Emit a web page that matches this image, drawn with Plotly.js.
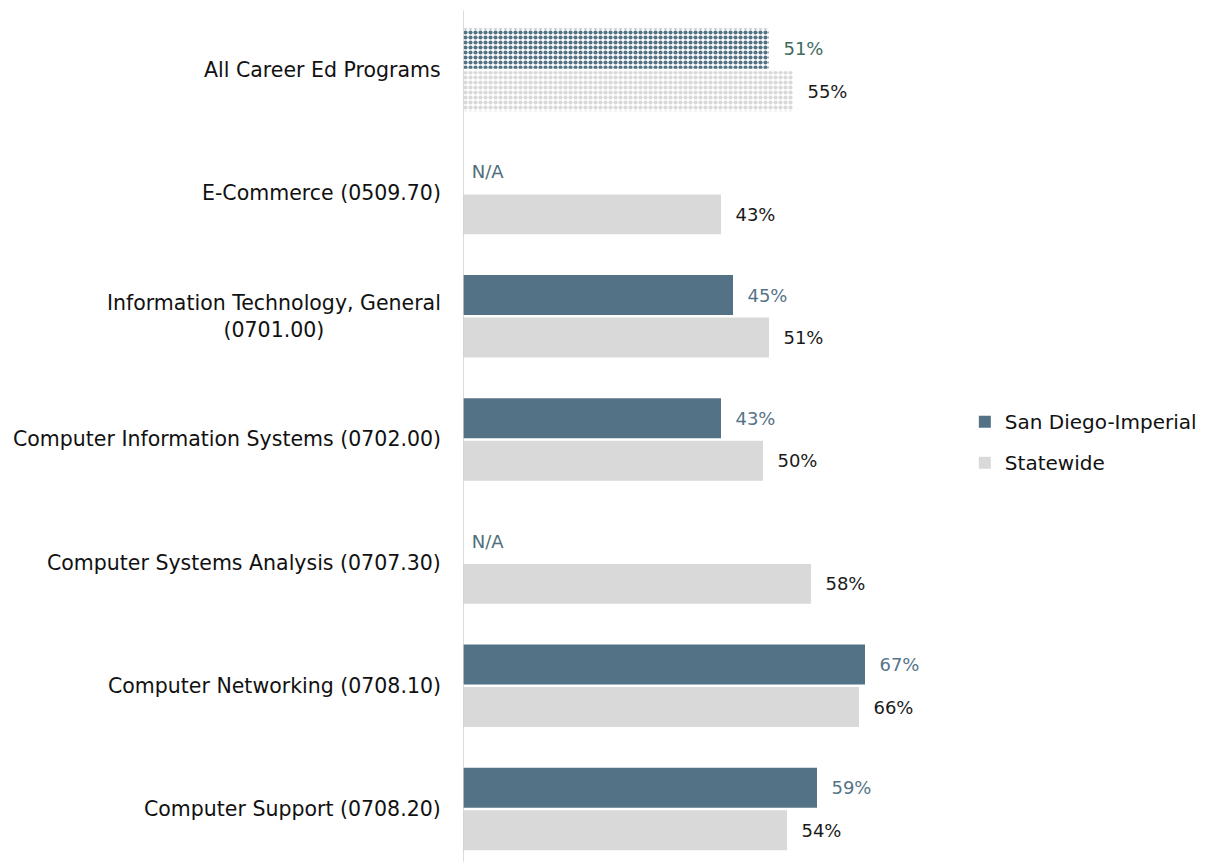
<!DOCTYPE html>
<html>
<head>
<meta charset="utf-8">
<script src="https://cdn.plot.ly/plotly-3.0.1.min.js"></script>
<style>html,body{margin:0;padding:0;background:#fff;}#chart{width:1217px;height:867px;}</style>
</head>
<body>
<div id="chart"></div>
<script>
const categories = [
  'All Career Ed Programs',
  'E-Commerce (0509.70)',
  'Information Technology, General<br>(0701.00)',
  'Computer Information Systems (0702.00)',
  'Computer Systems Analysis (0707.30)',
  'Computer Networking (0708.10)',
  'Computer Support (0708.20)'
];
const sanDiego = [51, null, 45, 43, null, 67, 59];
const statewide = [55, 43, 51, 50, 58, 66, 54];
const seriesNames = ['San Diego-Imperial', 'Statewide'];

const FONT = 'DejaVu Sans';
const SD_COLOR = '#537285';
const SW_COLOR = '#d9d9d9';
const PAD = '\u00a0\u00a0';

function sdText(v) { return v === null ? '\u00a0N/A' : PAD + v + '%'; }
function swText(v) { return PAD + v + '%'; }

const rest = categories.slice(1);
const sdRest = sanDiego.slice(1);
const swRest = statewide.slice(1);

const traces = [
  {
    type: 'bar', orientation: 'h', name: seriesNames[0], legendgroup: 'sd', offsetgroup: 'sd',
    y: rest, x: sdRest.map(v => v === null ? 0 : v),
    text: sdRest.map(sdText), textposition: 'outside', cliponaxis: false, constraintext: 'none',
    textfont: {family: FONT, size: 18, color: sdRest.map(v => v === null ? '#4f6e7c' : '#557488')},
    marker: {color: SD_COLOR}, hoverinfo: 'none'
  },
  {
    type: 'bar', orientation: 'h', name: seriesNames[1], legendgroup: 'sw', offsetgroup: 'sw',
    y: rest, x: swRest,
    text: swRest.map(swText), textposition: 'outside', cliponaxis: false, constraintext: 'none',
    textfont: {family: FONT, size: 18, color: '#1a1a1a'},
    marker: {color: SW_COLOR}, hoverinfo: 'none'
  },
  {
    type: 'bar', orientation: 'h', name: seriesNames[0], legendgroup: 'sd', offsetgroup: 'sd', showlegend: false,
    y: [categories[0]], x: [sanDiego[0]],
    text: [sdText(sanDiego[0])], textposition: 'outside', cliponaxis: false, constraintext: 'none',
    textfont: {family: FONT, size: 18, color: '#3e6b5e'},
    marker: {color: SD_COLOR, pattern: {shape: '.', size: 5, solidity: 0.55, fillmode: 'replace'}}, hoverinfo: 'none'
  },
  {
    type: 'bar', orientation: 'h', name: seriesNames[1], legendgroup: 'sw', offsetgroup: 'sw', showlegend: false,
    y: [categories[0]], x: [statewide[0]],
    text: [swText(statewide[0])], textposition: 'outside', cliponaxis: false, constraintext: 'none',
    textfont: {family: FONT, size: 18, color: '#1a1a1a'},
    marker: {color: SW_COLOR, pattern: {shape: '.', size: 5, solidity: 0.55, fillmode: 'replace'}}, hoverinfo: 'none'
  }
];

const annotations = categories.map(c => ({
  x: 0, xref: 'paper', y: c, yref: 'y', xanchor: 'right', yanchor: 'middle', xshift: -20,
  text: c, showarrow: false, align: 'center',
  font: {family: FONT, size: 20.5, color: '#111'}
}));

const layout = {
  width: 1217, height: 867,
  margin: {l: 463, r: 244, t: 0, b: 0},
  paper_bgcolor: '#fff', plot_bgcolor: '#fff',
  barmode: 'group', bargap: 0.31, bargroupgap: 0.06,
  font: {family: FONT, size: 18, color: '#111'},
  xaxis: {range: [0, 85], showgrid: false, zeroline: false, showticklabels: false, showline: false, fixedrange: true},
  yaxis: {type: 'category', categoryorder: 'array', categoryarray: categories, range: [6.471, -0.568],
          showticklabels: false, showgrid: false, zeroline: false, showline: false, ticks: '', fixedrange: true},
  showlegend: true,
  legend: {x: 0.984, xanchor: 'left', y: 0.49, yanchor: 'middle', tracegroupgap: 12,
           font: {family: FONT, size: 20, color: '#111'}, bgcolor: 'rgba(0,0,0,0)', itemwidth: 30},
  shapes: [{type: 'line', xref: 'x', yref: 'paper', x0: 0, x1: 0, y0: 0.006, y1: 0.988,
            line: {color: '#d0d0d0', width: 1.5}, layer: 'above'}],
  annotations: annotations
};

Plotly.newPlot('chart', traces, layout, {displayModeBar: false, staticPlot: true});
</script>
</body>
</html>
